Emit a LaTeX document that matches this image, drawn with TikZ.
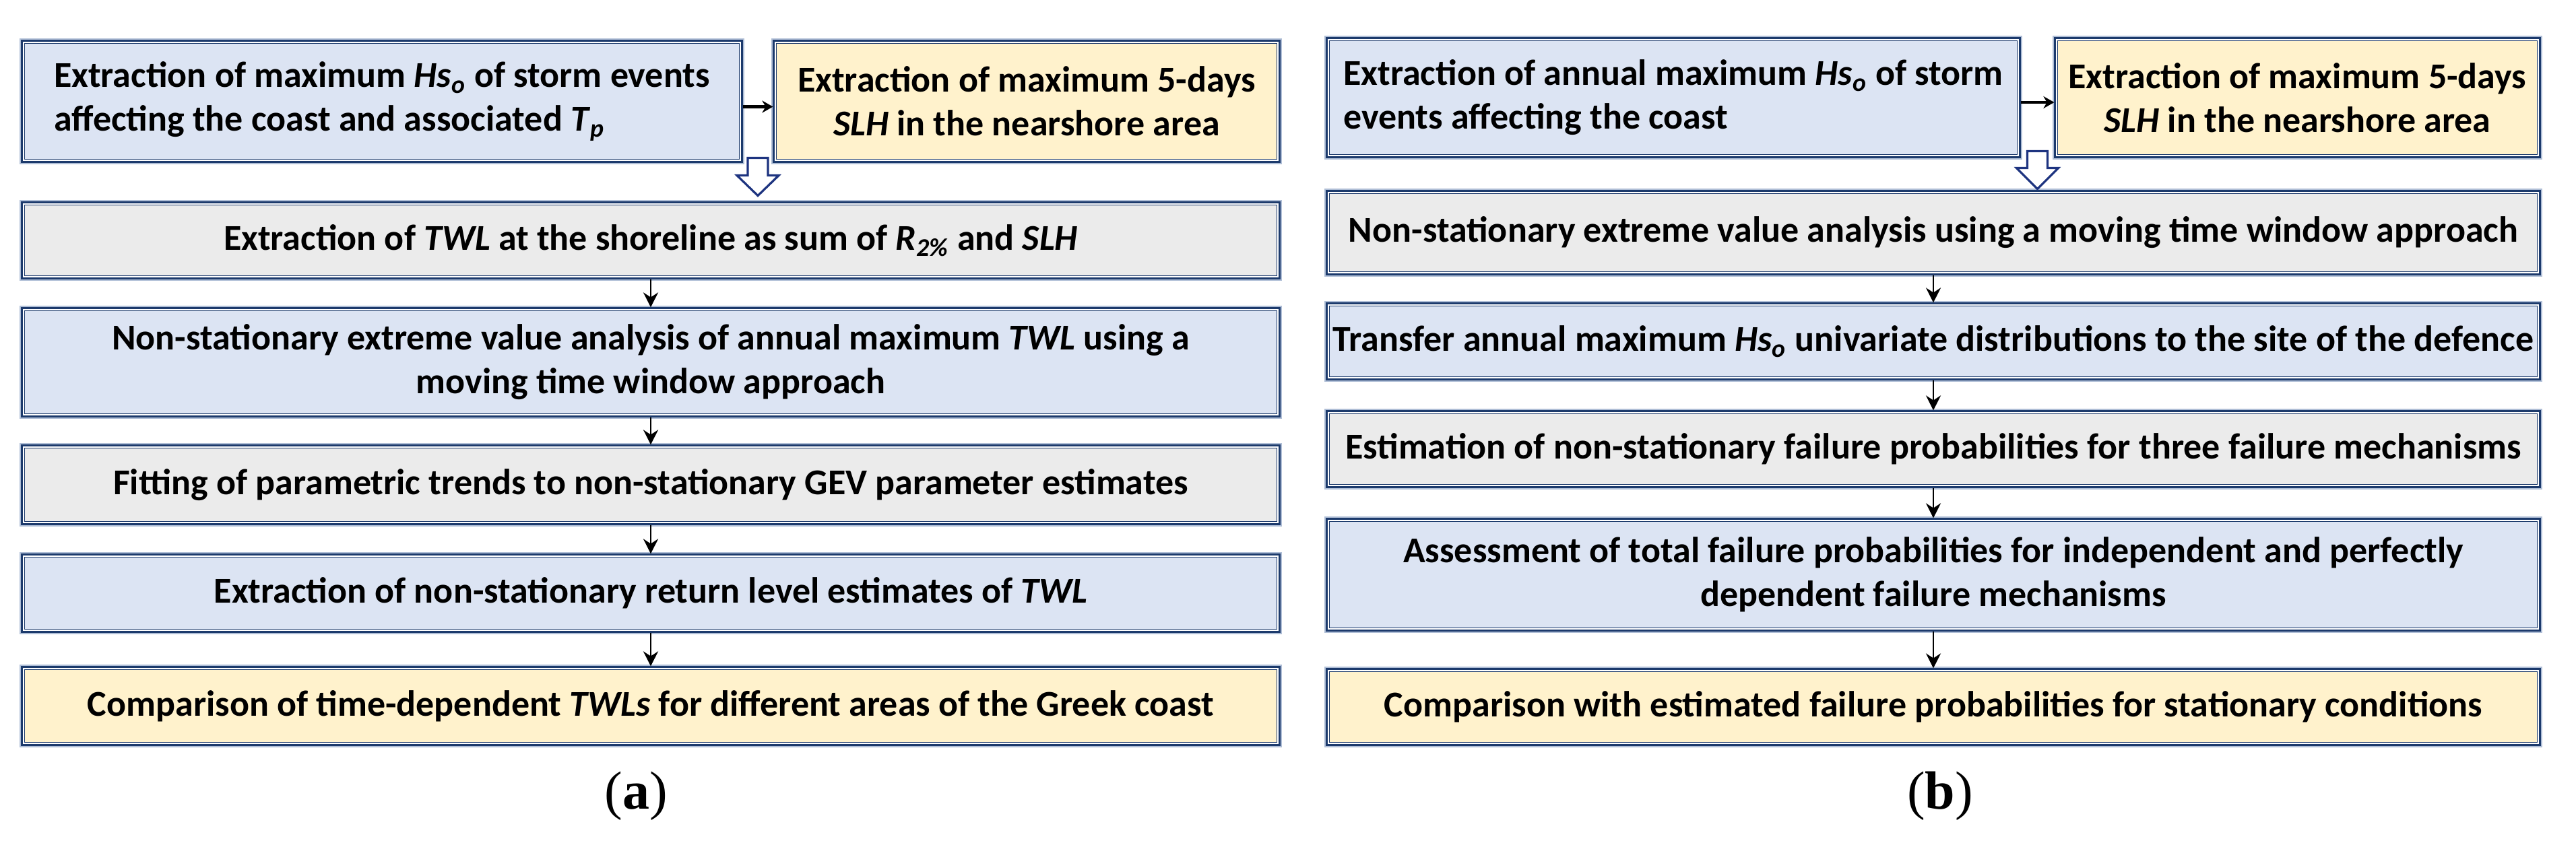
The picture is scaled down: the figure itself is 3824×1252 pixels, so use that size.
\documentclass[tikz,border=0pt]{standalone}
\usepackage{fontspec}
\setmainfont{Carlito}
\newfontfamily\labelfont{Liberation Serif}
\usetikzlibrary{arrows.meta,calc}
\definecolor{navy}{RGB}{28,58,108}
\definecolor{glow}{RGB}{175,190,214}
\definecolor{fblue}{RGB}{220,228,243}
\definecolor{fgray}{RGB}{235,235,235}
\definecolor{fyellow}{RGB}{255,242,204}
\definecolor{hollowblue}{RGB}{30,52,128}
\tikzset{
  box/.style={draw=navy, line width=1.3pt, inner sep=0pt, align=center,
    font=\bfseries\fontsize{13.5}{16.25}\selectfont,
    preaction={draw=glow, line width=2.4pt}},
  bluebox/.style={box, fill=fblue},
  graybox/.style={box, fill=fgray},
  yellowbox/.style={box, fill=fyellow},
  conn/.style={-{Stealth[length=5.5pt,width=5.5pt]}, line width=0.7pt, black},
  sideconn/.style={-{Stealth[length=4pt,width=4.5pt]}, line width=1.1pt, black},
  hollowarrow/.style={draw=hollowblue, line width=0.8pt, fill=white, line join=miter},
  panellabel/.style={font=\labelfont\fontsize{20}{24}\selectfont, inner sep=0pt}
}
\begin{document}
\begin{tikzpicture}[x=0.25pt,y=-0.25pt]
\useasboundingbox[fill=white] (0,0) rectangle (3824,1252);
% ---------------- panel (a)
\node[bluebox, align=left, minimum width=266.5pt, minimum height=44.25pt] (A1) at (567,150.5)
  {Extraction of maximum \textit{Hs}\textsubscript{\textit{o}} of storm events\\ affecting the coast and associated \textit{T}\textsubscript{\textit{p}}};
\node[yellowbox, minimum width=187pt, minimum height=44.25pt] (A2) at (1524,150.5)
  {Extraction of maximum 5-days\\ \textit{SLH} in the nearshore area};
\node[graybox, minimum width=466pt, minimum height=27.5pt] (A3) at (966,357)
  {Extraction of \textit{TWL} at the shoreline as sum of \textit{R}\textsubscript{\textit{2\%}} and \textit{SLH}};
\node[bluebox, minimum width=466pt, minimum height=39.5pt] (A4) at (966,538)
  {Non-stationary extreme value analysis of annual maximum \textit{TWL} using a\\ moving time window approach};
\node[graybox, minimum width=466pt, minimum height=28.5pt] (A5) at (966,720)
  {Fitting of parametric trends to non-stationary GEV parameter estimates};
\node[bluebox, minimum width=466pt, minimum height=28pt] (A6) at (966,881)
  {Extraction of non-stationary return level estimates of \textit{TWL}};
\node[yellowbox, minimum width=466pt, minimum height=28.25pt] (A7) at (966,1048.5)
  {Comparison of time-dependent \textit{TWLs} for different areas of the Greek coast};
\node[panellabel] (la) at (944,1182) {(\textbf{a})};
% ---------------- panel (b)
\node[bluebox, align=left, minimum width=256.5pt, minimum height=43.5pt] (B1) at (2484,145)
  {Extraction of annual maximum \textit{Hs}\textsubscript{\textit{o}} of storm\\ events affecting the coast};
\node[yellowbox, minimum width=179.25pt, minimum height=43.5pt] (B2) at (3410.5,145)
  {Extraction of maximum 5-days\\ \textit{SLH} in the nearshore area};
\node[graybox, minimum width=449.5pt, minimum height=30.25pt] (B3) at (2870,345.5)
  {Non-stationary extreme value analysis using a moving time window approach};
\node[bluebox, minimum width=449.5pt, minimum height=27.5pt] (B4) at (2870,507)
  {Transfer annual maximum \textit{Hs}\textsubscript{\textit{o}} univariate distributions to the site of the defence};
\node[graybox, minimum width=449.5pt, minimum height=27.5pt] (B5) at (2870,667)
  {Estimation of non-stationary failure probabilities for three failure mechanisms};
\node[bluebox, minimum width=449.5pt, minimum height=40.75pt] (B6) at (2870,853.5)
  {Assessment of total failure probabilities for independent and perfectly\\ dependent failure mechanisms};
\node[yellowbox, minimum width=449.5pt, minimum height=27.5pt] (B7) at (2870,1050)
  {Comparison with estimated failure probabilities for stationary conditions};
\node[panellabel] (lb) at (2880,1182) {(\textbf{b})};
% inner light lines of the borders
\foreach \n in {A1,A2,A3,A4,A5,A6,A7,B1,B2,B3,B4,B5,B6,B7}{
  \draw[white, line width=0.5pt] ([shift={(0.95pt,-0.95pt)}]\n.north west) rectangle ([shift={(-0.95pt,0.95pt)}]\n.south east);
}
% ---------------- connectors
\draw[sideconn] ([yshift=-2pt]A1.east) -- ([yshift=-2pt]A2.west);
\draw[sideconn] ([yshift=-1.75pt]B1.east) -- ([yshift=-1.75pt]B2.west);
\foreach \a/\b in {A3/A4,A4/A5,A5/A6,A6/A7,B3/B4,B4/B5,B5/B6,B6/B7}{
  \draw[conn] (\a.south) -- (\b.north);
}
\coordinate (ha) at ($(A1.south east)!0.5!(A2.south west)$);
\coordinate (hb) at ($(B1.south east)!0.5!(B2.south west)$);
\draw[hollowarrow] ($(ha)+(-15,-7)$) -- ++(0,26) -- ++(-16,0) -- ++(31,30) -- ++(31,-30) -- ++(-16,0) -- ++(0,-26) -- cycle;
\draw[hollowarrow] ($(hb)+(-15,-10)$) -- ++(0,25) -- ++(-16,0) -- ++(31,31) -- ++(31,-31) -- ++(-16,0) -- ++(0,-25) -- cycle;
\end{tikzpicture}
\end{document}
